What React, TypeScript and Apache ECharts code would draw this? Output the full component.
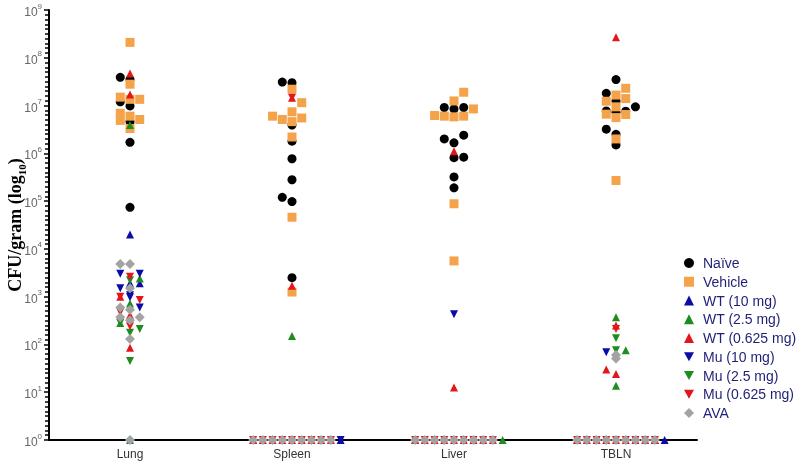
import React, { useEffect, useRef } from 'react';
import * as echarts from 'echarts';

const categories = ['Lung', 'Spleen', 'Liver', 'TBLN'];
const seriesNames = ['Naïve', 'Vehicle', 'WT (10 mg)', 'WT (2.5 mg)', 'WT (0.625 mg)', 'Mu (10 mg)', 'Mu (2.5 mg)', 'Mu (0.625 mg)', 'AVA'];

// each point: [organ index, jitter slot, CFU/gram]
const naive = [
  [0, -1, 3.9e7], [0, 0, 3.5e7], [0, -1, 1.2e7], [0, 0, 9.8e6], [0, 0, 4.6e6], [0, 0, 1.7e6], [0, 0, 7.4e4],
  [1, -1, 3.1e7], [1, 0, 3.0e7], [1, 0, 3.9e6], [1, 0, 1.8e6], [1, 0, 7.7e5], [1, 0, 2.8e5], [1, -1, 1.2e5], [1, 0, 9.8e4], [1, 0, 2.5e3],
  [2, -1, 9.1e6], [2, 0, 8.5e6], [2, 1, 9.1e6], [2, -1, 2.0e6], [2, 1, 2.4e6], [2, 0, 1.66e6], [2, 0, 8.1e5], [2, 1, 8.3e5], [2, 0, 3.2e5], [2, 0, 1.9e5],
  [3, 0, 3.5e7], [3, -1, 1.8e7], [3, 0, 1.25e7], [3, 2, 9.4e6], [3, -1, 7.7e6], [3, 0, 7.2e6], [3, 1, 7.6e6], [3, -1, 3.2e6], [3, 0, 2.5e6], [3, 0, 1.5e6],
];
const vehicle = [
  [0, 0, 2.1e8], [0, 0, 2.8e7], [0, -1, 1.5e7], [0, 0, 1.35e7], [0, 1, 1.35e7], [0, -1, 6.9e6], [0, -1, 4.9e6], [0, 0, 6.0e6], [0, 1, 5.1e6], [0, 0, 3.3e6],
  [1, 0, 2.2e7], [1, 1, 1.15e7], [1, 0, 7.4e6], [1, -2, 6.0e6], [1, 1, 5.5e6], [1, -1, 5.1e6], [1, 0, 4.6e6], [1, 0, 2.2e6], [1, 0, 4.6e4], [1, 0, 1.25e3],
  [2, 1, 1.9e7], [2, 0, 1.25e7], [2, 2, 8.5e6], [2, -2, 6.2e6], [2, -1, 6.0e6], [2, 0, 5.8e6], [2, 1, 6.0e6], [2, 0, 8.8e4], [2, 0, 5.6e3],
  [3, 0, 1.66e7], [3, 1, 2.3e7], [3, 1, 1.4e7], [3, -1, 1.23e7], [3, 0, 9.4e6], [3, -1, 6.6e6], [3, 0, 5.6e6], [3, 1, 6.5e6], [3, 0, 2.0e6], [3, 0, 2.7e5],
];
const wt10 = [
  [0, 0, 2.0e4], [0, 1, 1.9e3], [0, 0, 1.9e3],
  [1, 5, 1], [3, -4, 1], [3, 4, 1], [3, 5, 1],
];
const wt25 = [
  [0, 0, 3.9e6], [0, 1, 2.4e3], [0, -1, 2.8e2], [0, 0, 7.2e2], [0, 0, 1],
  [1, 0, 1.5e2], [1, -4, 1],
  [2, -4, 1], [2, 5, 1],
  [3, 0, 3.7e2], [3, 1, 76], [3, 0, 13.7],
];
const wt0625 = [
  [0, 0, 4.7e7], [0, 0, 1.7e7], [0, 0, 85], [0, -1, 1.0e3], [0, 0, 4.1e2],
  [1, 0, 1.45e7], [1, 0, 1.7e3],
  [2, 0, 1.1e6], [2, 0, 12.6],
  [3, 0, 2.7e8], [3, 0, 2.5e2], [3, -1, 30], [3, 0, 24],
];
const mu10 = [
  [0, -1, 3.0e3], [0, 1, 3.0e3], [0, -1, 1.5e3], [0, 0, 1.07e3], [0, 0, 9.7e2], [0, 1, 5.9e2],
  [1, 5, 1],
  [2, 0, 4.3e2],
  [3, -1, 69],
];
const mu25 = [
  [0, 0, 45], [0, 0, 1.75e2], [0, 1, 2.1e2], [0, -1, 2.8e2], [0, 0, 2.2e3],
  [3, 0, 1.35e2], [3, 0, 76],
];
const mu0625 = [
  [0, 0, 2.6e3], [0, -1, 1.0e3], [0, 1, 8.5e2], [0, 0, 2.4e2], [0, -1, 4.7e2],
  [1, 0, 1.45e7],
  [3, 0, 2.1e2],
];
const ava = [
  [0, -1, 4.8e3], [0, 0, 4.8e3], [0, 0, 1.5e3], [0, -1, 5.9e2], [0, 0, 5.3e2], [0, -1, 3.7e2], [0, 0, 3.2e2], [0, 1, 3.7e2], [0, 0, 1.3e2], [0, 0, 1],
  [3, 0, 60], [3, 0, 51],
];
// slots of the rows of undetected samples (value 1) in Spleen, Liver, TBLN
const zeroSlots = [-4, -3, -2, -1, 0, 1, 2, 3, 4];
const zeroOrgans = [1, 2, 3];

const SLOT = 0.06;
const colors = ['#000000', '#F5A34B', '#0B0BA8', '#1E8C1E', '#E3161B', '#0B0BA8', '#1E8C1E', '#E3161B', '#A3A3A3'];
const downTri = 'path://M0,0 L10,0 L5,9 Z';
const symbols = ['circle', 'rect', 'triangle', 'triangle', 'triangle', downTri, downTri, downTri, 'diamond'];
const sizes = [9, 9, 8, 8, 8, 8, 8, 8, 10];

function withZeros(arr: number[][], add: boolean) {
  const out = arr.slice();
  if (add) zeroOrgans.forEach((o) => zeroSlots.forEach((s) => out.push([o, s, 1])));
  return out;
}

export default function App() {
  const ref = useRef<HTMLDivElement>(null);
  useEffect(() => {
    if (!ref.current) return;
    const chart = echarts.init(ref.current, undefined, { renderer: 'svg' });
    const raw = [naive, vehicle, wt10, wt25, withZeros(wt0625, true), mu10, mu25, withZeros(mu0625, true), withZeros(ava, true)];
    const series = raw.map((arr, i) => ({
      name: seriesNames[i],
      type: 'scatter',
      xAxisIndex: 1,
      yAxisIndex: 0,
      symbol: symbols[i],
      symbolSize: sizes[i],
      clip: false,
      itemStyle: { color: colors[i], opacity: 1 },
      data: arr.map(([o, s, v]) => [o + s * SLOT, v]),
    }));
    const font = '"Liberation Sans", Arial, sans-serif';
    const serif = '"Liberation Serif", "Times New Roman", serif';
    chart.setOption({
      animation: false,
      grid: { left: 49, right: 103, top: 10, bottom: 26, containLabel: false, outerBoundsMode: 'none' },
      legend: {
        orient: 'vertical',
        left: 679,
        top: 251,
        itemWidth: 10,
        itemHeight: 10,
        itemGap: 4.75,
        textStyle: { fontFamily: font, fontSize: 14, lineHeight: 14, color: '#1F1F78', padding: [0, 0, 0, 4] },
        data: seriesNames,
      },
      xAxis: [
        {
          type: 'category',
          data: categories,
          boundaryGap: true,
          axisLine: { onZero: false, lineStyle: { color: '#000', width: 2 } },
          axisTick: { alignWithLabel: true, length: 4, lineStyle: { color: '#000', width: 1.5 } },
          axisLabel: { fontFamily: font, fontSize: 12, color: '#333', margin: 8 },
          splitLine: { show: false },
        },
        { type: 'value', min: -0.5, max: 3.5, show: false, axisLine: { onZero: false } },
      ],
      yAxis: [
        {
          type: 'log',
          logBase: 10,
          min: 1,
          max: 1e9,
          splitNumber: 9,
          position: 'left',
          axisLine: { show: true, onZero: false, lineStyle: { color: '#000', width: 2 } },
          axisTick: { show: true, length: 5, lineStyle: { color: '#000', width: 1.5 } },
          minorTick: { show: false },
          splitLine: { show: false },
          axisLabel: {
            margin: 7,
            formatter: (v: number) => `{b|10}{s|${Math.round(Math.log10(v))}}`,
            rich: {
              b: { fontFamily: font, fontSize: 12, color: '#666', lineHeight: 16, verticalAlign: 'bottom' },
              s: { fontFamily: font, fontSize: 8, color: '#666', lineHeight: 8, verticalAlign: 'top' },
            },
          },
          name: '{a|CFU/gram (log}{b|10}{a|)}',
          nameLocation: 'middle',
          nameRotate: 90,
          nameGap: 22,
          nameMoveOverlap: false,
          nameTextStyle: {
            rich: {
              a: { fontFamily: serif, fontWeight: 'bold', fontSize: 18, color: '#000', lineHeight: 21, verticalAlign: 'top' },
              b: { fontFamily: serif, fontWeight: 'bold', fontSize: 11, color: '#000', lineHeight: 10, verticalAlign: 'bottom' },
            },
          },
        },
        {
          // decade ruler that carries the evenly spaced minor ticks
          type: 'value',
          min: 0,
          max: 9,
          interval: 1,
          position: 'left',
          offset: 0,
          axisLine: { show: false, onZero: false },
          axisTick: { show: false },
          minorTick: { show: true, splitNumber: 10, length: 4, lineStyle: { color: '#000', width: 1.5 } },
          axisLabel: { show: false },
          splitLine: { show: false },
        },
      ],
      series,
    });
    return () => chart.dispose();
  }, []);
  return <div ref={ref} style={{ position: 'fixed', left: 0, top: 0, width: 800, height: 466 }} />;
}
